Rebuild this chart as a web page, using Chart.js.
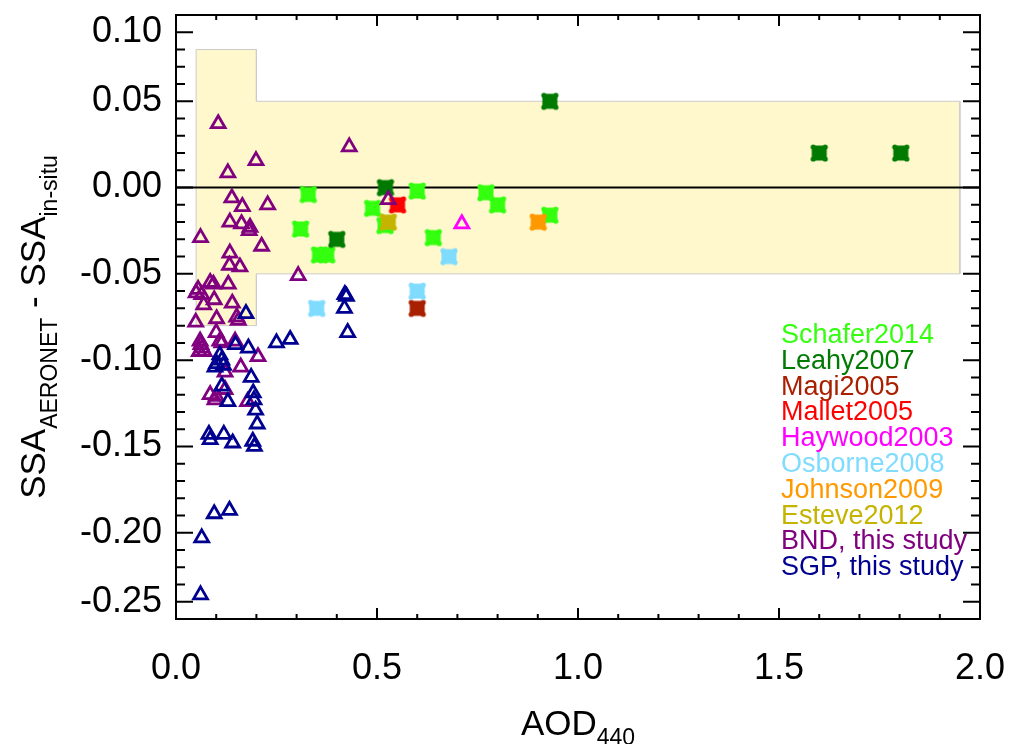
<!DOCTYPE html>
<html>
<head>
<meta charset="utf-8">
<script src="https://cdn.jsdelivr.net/npm/chart.js@4.4.0/dist/chart.umd.min.js"></script>
<style>
  html, body { margin: 0; padding: 0; background: #fff; }
</style>
</head>
<body>
<canvas id="c" width="1009" height="744"></canvas>
<script>
// --- data (AOD440, SSA difference) ---
const schaferX = [0.329, 0.310, 0.357, 0.375, 0.489, 0.520, 0.600, 0.640, 0.771, 0.800, 0.930];
const schaferY = [-0.004, -0.024, -0.039, -0.039, -0.012, -0.022, -0.002, -0.029, -0.003, -0.010, -0.016];
const leahyX = [0.400, 0.521, 0.930, 1.600, 1.803];
const leahyY = [-0.030, 0.000, 0.050, 0.020, 0.020];
const magiX = [0.600];
const magiY = [-0.070];
const malletX = [0.551];
const malletY = [-0.010];
const haywoodX = [0.711];
const haywoodY = [-0.021];
const osborneX = [0.350, 0.600, 0.679];
const osborneY = [-0.070, -0.060, -0.040];
const johnsonX = [0.901];
const johnsonY = [-0.020];
const esteveX = [0.528];
const esteveY = [-0.020];
const bndX = [0.105, 0.129, 0.199, 0.139, 0.165, 0.228, 0.134, 0.163, 0.184, 0.182,
              0.061, 0.213, 0.134, 0.133, 0.159, 0.304, 0.085, 0.093, 0.130, 0.055,
              0.050, 0.064, 0.095, 0.069, 0.140, 0.151, 0.101, 0.049, 0.155, 0.100,
              0.060, 0.062, 0.065, 0.070, 0.058, 0.114, 0.147, 0.204, 0.122, 0.161,
              0.122, 0.085, 0.100, 0.097, 0.178, 0.431, 0.528, 0.109];
const bndY = [0.037, 0.0085, 0.0156, -0.006, -0.011, -0.010, -0.020, -0.021, -0.023, -0.025,
              -0.029, -0.034, -0.038, -0.045, -0.046, -0.051, -0.055, -0.056, -0.056, -0.059,
              -0.061, -0.062, -0.065, -0.068, -0.067, -0.075, -0.076, -0.078, -0.077, -0.084,
              -0.089, -0.091, -0.093, -0.095, -0.095, -0.090, -0.089, -0.098, -0.107, -0.104,
              -0.117, -0.120, -0.121, -0.123, -0.124, 0.0236, -0.007, -0.089];
const sgpX = [0.174, 0.250, 0.284, 0.148, 0.180, 0.109, 0.114, 0.097, 0.118, 0.187,
              0.114, 0.129, 0.192, 0.194, 0.198, 0.202, 0.082, 0.085, 0.119, 0.141,
              0.191, 0.195, 0.095, 0.133, 0.064, 0.061, 0.420, 0.424, 0.419, 0.427, 0.101];
const sgpY = [-0.073, -0.090, -0.088, -0.091, -0.093, -0.097, -0.100, -0.104, -0.103, -0.110,
              -0.115, -0.124, -0.119, -0.123, -0.129, -0.137, -0.143, -0.146, -0.143, -0.148,
              -0.147, -0.150, -0.189, -0.187, -0.203, -0.236, -0.062, -0.063, -0.070, -0.084, -0.102];

// uncertainty band outline
const bandX = [0.05, 0.05, 0.20, 0.20, 1.95, 1.95, 0.20, 0.20, 0.05];
const bandY = [-0.08, 0.08, 0.08, 0.05, 0.05, -0.05, -0.05, -0.08, -0.08];

const studyNames = ['Schafer2014', 'Leahy2007', 'Magi2005', 'Mallet2005', 'Haywood2003',
                    'Osborne2008', 'Johnson2009', 'Esteve2012', 'BND, this study', 'SGP, this study'];
const studyColors = ['#33ff0f', '#007a00', '#a82000', '#ff0000', '#ff00ff',
                     '#80dcff', '#ff9900', '#c4b400', '#800080', '#000090'];
const studyX = [schaferX, leahyX, magiX, malletX, haywoodX, osborneX, johnsonX, esteveX, bndX, sgpX];
const studyY = [schaferY, leahyY, magiY, malletY, haywoodY, osborneY, johnsonY, esteveY, bndY, sgpY];
const openTriangle = [false, false, false, false, true, false, false, false, true, true];

const xTickValues = [0, 0.5, 1.0, 1.5, 2.0];
const xTickLabels = ['0.0', '0.5', '1.0', '1.5', '2.0'];
const yTickValues = [-0.24, -0.20, -0.15, -0.10, -0.05, 0.00, 0.05, 0.09];
const yTickLabels = ['-0.25', '-0.20', '-0.15', '-0.10', '-0.05', '0.00', '0.05', '0.10'];

const FONT = '"Liberation Sans", Arial, sans-serif';

// filled square marker with small bumps at the corners
function makeCross(color) {
    const c = document.createElement('canvas');
    c.width = 20; c.height = 20;
    const g = c.getContext('2d');
    g.fillStyle = color;
    g.fillRect(2.5, 2.5, 15, 15);
    [[4, 4], [16, 4], [4, 16], [16, 16]].forEach(([cx, cy]) => {
        g.beginPath(); g.arc(cx, cy, 2.6, 0, Math.PI * 2); g.fill();
    });
    return c;
}

const pts = (xs, ys) => xs.map((v, i) => ({ x: v, y: ys[i] }));

const datasets = [
    {
        label: 'band', data: pts(bandX, bandY), showLine: true, fill: 'shape',
        backgroundColor: '#fff8cc', borderColor: '#cccccc', borderWidth: 1,
        pointRadius: 0, order: 100
    },
    {
        label: 'zero', data: pts([0, 2], [0, 0]), showLine: true, fill: false,
        borderColor: '#000', borderWidth: 2, pointRadius: 0, order: 99
    }
];
studyNames.forEach((name, i) => {
    const tri = openTriangle[i];
    datasets.push({
        label: name,
        data: pts(studyX[i], studyY[i]),
        showLine: false,
        pointStyle: tri ? 'triangle' : makeCross(studyColors[i]),
        pointRadius: 8,
        borderWidth: tri ? 2.8 : 0,
        borderColor: studyColors[i],
        backgroundColor: tri ? 'rgba(0,0,0,0)' : studyColors[i],
        order: 20 - i
    });
});

const decor = {
    id: 'decor',
    afterDatasetsDraw(chart) {
        const { ctx, chartArea: a, scales: { x, y } } = chart;
        ctx.save();
        ctx.strokeStyle = '#000';
        ctx.lineWidth = 2;
        ctx.beginPath();
        for (let i = 0; i <= 20; i++) {
            const px = x.getPixelForValue(i / 10);
            const len = i % 5 ? 5 : 11;
            ctx.moveTo(px, a.bottom); ctx.lineTo(px, a.bottom - len);
            ctx.moveTo(px, a.top); ctx.lineTo(px, a.top + len);
        }
        const majors = yTickValues.map(v => Math.round(v * 100));
        for (let i = -25; i <= 10; i++) {
            const py = y.getPixelForValue(i / 100);
            const len = majors.includes(i) ? 17 : 9;
            ctx.moveTo(a.left, py); ctx.lineTo(a.left + len, py);
            ctx.moveTo(a.right, py); ctx.lineTo(a.right - len, py);
        }
        ctx.stroke();
        ctx.strokeRect(a.left, a.top, a.right - a.left, a.bottom - a.top);

        // legend as coloured text
        ctx.font = '27px ' + FONT;
        ctx.textAlign = 'left';
        ctx.textBaseline = 'alphabetic';
        studyNames.forEach((n, i) => {
            ctx.fillStyle = studyColors[i];
            ctx.fillText(n, 781, 343 + i * 25.8);
        });

        // axis titles with subscripts
        ctx.fillStyle = '#000';
        const big = '35px ' + FONT, small = '23px ' + FONT;
        const parts = [['AOD', big, 0], ['440', small, 10]];
        let w = 0;
        parts.forEach(p => { ctx.font = p[1]; w += ctx.measureText(p[0]).width; });
        let cx = (a.left + a.right) / 2 - w / 2;
        parts.forEach(p => { ctx.font = p[1]; ctx.fillText(p[0], cx, 735 + p[2]); cx += ctx.measureText(p[0]).width; });

        const yparts = [['SSA', big, 0], ['AERONET', small, 12], [' - ', big, 0], ['SSA', big, 0], ['in-situ', small, 12]];
        w = 0;
        yparts.forEach(p => { ctx.font = p[1]; w += ctx.measureText(p[0]).width; });
        ctx.translate(45, 327);
        ctx.rotate(-Math.PI / 2);
        cx = -w / 2;
        yparts.forEach(p => { ctx.font = p[1]; ctx.fillText(p[0], cx, p[2]); cx += ctx.measureText(p[0]).width; });
        ctx.restore();
    }
};

new Chart(document.getElementById('c'), {
    type: 'scatter',
    data: { datasets },
    options: {
        responsive: false,
        animation: false,
        devicePixelRatio: 1,
        layout: { padding: { left: 0, right: 29, top: 15, bottom: 0 } },
        plugins: { legend: { display: false }, tooltip: { enabled: false } },
        scales: {
            x: {
                type: 'linear', min: 0, max: 2,
                afterFit: s => { s.height = 125; s.paddingLeft = 0; s.paddingRight = 0; },
                afterBuildTicks: s => { s.ticks = xTickValues.map(v => ({ value: v })); },
                ticks: {
                    callback: (v, i) => xTickLabels[i],
                    font: { size: 36, family: FONT }, color: '#000', padding: 28, maxRotation: 0
                },
                grid: { display: false, drawTicks: false },
                border: { display: false }
            },
            y: {
                type: 'linear', min: -0.25, max: 0.10,
                afterFit: s => { s.width = 176; s.paddingTop = 0; s.paddingBottom = 0; },
                afterBuildTicks: s => { s.ticks = yTickValues.map(v => ({ value: v })); },
                ticks: {
                    callback: (v, i) => yTickLabels[i],
                    font: { size: 36, family: FONT }, color: '#000', padding: 14
                },
                grid: { display: false, drawTicks: false },
                border: { display: false }
            }
        }
    },
    plugins: [decor]
});
</script>
</body>
</html>
